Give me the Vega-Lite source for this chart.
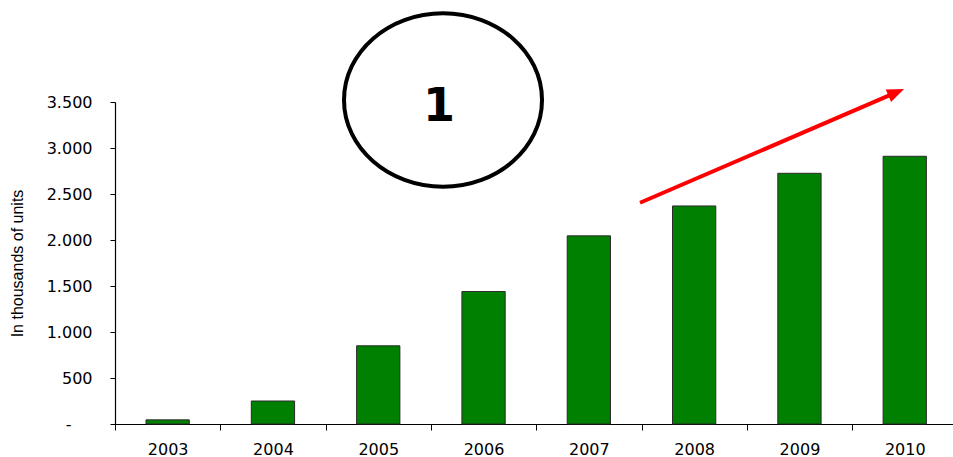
{
  "$schema": "https://vega.github.io/schema/vega-lite/v6.json",
  "autosize": {"type": "none"},
  "width": 838,
  "height": 322,
  "padding": {"left": 115, "top": 102, "right": 0, "bottom": 33},
  "config": {
    "view": {"stroke": null},
    "font": "DejaVu Sans",
    "axis": {"labelFont": "DejaVu Sans", "titleFont": "Liberation Sans"}
  },
  "datasets": {
    "units": [
      {"year": "2003", "units": 45},
      {"year": "2004", "units": 250},
      {"year": "2005", "units": 850},
      {"year": "2006", "units": 1440},
      {"year": "2007", "units": 2045},
      {"year": "2008", "units": 2370},
      {"year": "2009", "units": 2725},
      {"year": "2010", "units": 2910}
    ],
    "badge": [{"year": "2006", "level": 3522, "textLevel": 3293, "label": "1"}],
    "trend": [{"year": "2007", "yearEnd": "2010", "from": 2405, "to": 3604}],
    "trendHead": [{"year": "2010", "level": 3604}]
  },
  "encoding": {
    "x": {
      "field": "year",
      "type": "ordinal",
      "scale": {"type": "band", "paddingInner": 0, "paddingOuter": 0, "range": [0, 842.4]},
      "axis": {
        "title": null,
        "labelAngle": 0,
        "labelFontSize": 16,
        "labelColor": "#000",
        "labelPadding": 11,
        "tickBand": "extent",
        "tickSize": 6,
        "tickColor": "#000",
        "domainColor": "#000",
        "domainWidth": 1.2,
        "grid": false
      }
    }
  },
  "layer": [
    {
      "data": {"name": "units"},
      "mark": {"type": "bar", "width": {"band": 0.411}, "color": "#008000", "stroke": "#2b2b2b", "strokeWidth": 1},
      "encoding": {
        "y": {
          "field": "units",
          "type": "quantitative",
          "scale": {"domain": [0, 3500], "nice": false, "zero": true},
          "axis": {
            "title": "In thousands of units",
            "titleFontSize": 16,
            "titleFontWeight": "normal",
            "titleColor": "#000",
            "titlePadding": 21,
            "values": [0, 500, 1000, 1500, 2000, 2500, 3000, 3500],
            "labelExpr": "datum.value == 0 ? '-' : replace(format(datum.value, ','), ',', '.')",
            "labelFontSize": 16,
            "labelColor": "#000",
            "labelPadding": {"condition": {"test": "datum.value == 0", "value": 39}, "value": 18},
            "tickSize": 5,
            "tickColor": "#000",
            "domainColor": "#000",
            "domainWidth": 1.2,
            "grid": false
          }
        }
      }
    },
    {
      "data": {"name": "badge"},
      "mark": {
        "type": "point",
        "shape": "M-1,0A1,0.876 0 1,1 1,0A1,0.876 0 1,1 -1,0Z",
        "size": 39204,
        "filled": false,
        "stroke": "#000",
        "strokeWidth": 4,
        "opacity": 1
      },
      "encoding": {
        "x": {"field": "year", "type": "ordinal", "bandPosition": 0.115},
        "y": {"field": "level", "type": "quantitative"}
      }
    },
    {
      "data": {"name": "badge"},
      "mark": {"type": "text", "font": "DejaVu Sans", "fontWeight": "bold", "fontSize": 46, "align": "center", "baseline": "alphabetic", "color": "#000"},
      "encoding": {
        "x": {"field": "year", "type": "ordinal", "bandPosition": 0.077},
        "y": {"field": "textLevel", "type": "quantitative"},
        "text": {"field": "label"}
      }
    },
    {
      "data": {"name": "trend"},
      "mark": {"type": "rule", "color": "#ff0000", "strokeWidth": 4},
      "encoding": {
        "x": {"field": "year", "type": "ordinal", "bandPosition": 0.986},
        "x2": {"field": "yearEnd", "bandPosition": 0.419},
        "y": {"field": "from", "type": "quantitative"},
        "y2": {"field": "to"}
      }
    },
    {
      "data": {"name": "trendHead"},
      "mark": {
        "type": "point",
        "shape": "M-1,-0.8L1,0L-1,0.8Z",
        "size": 289,
        "filled": true,
        "fill": "#ff0000",
        "stroke": null,
        "opacity": 1,
        "angle": -23.2
      },
      "encoding": {
        "x": {"field": "year", "type": "ordinal", "bandPosition": 0.419},
        "y": {"field": "level", "type": "quantitative"}
      }
    }
  ]
}
